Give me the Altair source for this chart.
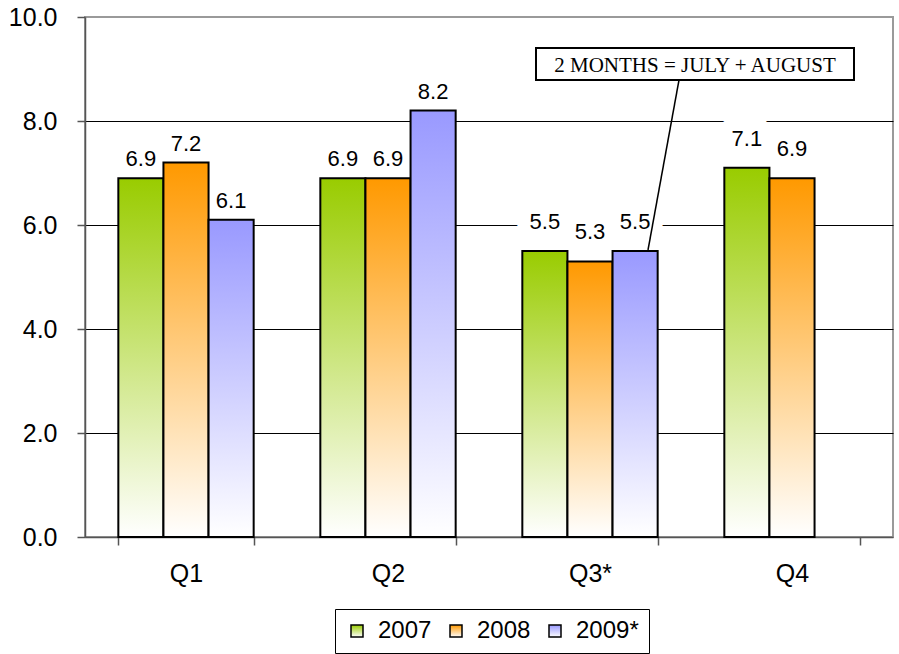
import altair as alt
import pandas as pd

# Quarterly figures per year (2009 has no Q4 yet)
quarters = ["Q1", "Q2", "Q3*", "Q4"]
years = ["2007", "2008", "2009*"]
values_2007 = [6.9, 6.9, 5.5, 7.1]
values_2008 = [7.2, 6.9, 5.3, 6.9]
values_2009 = [6.1, 8.2, 5.5]

# Top colour of each series' vertical fade to white
top_colors = ["#99CC00", "#FF9900", "#9999FF"]

note_text = ["2 MONTHS = JULY + AUGUST"]

rows = []
for year, vals in zip(years, [values_2007, values_2008, values_2009]):
    for q, v in zip(quarters, vals):
        rows.append({"quarter": q, "year": year, "value": v})
df = pd.DataFrame(rows)


def fade(color):
    # linear gradient object evaluated by Vega, top colour -> white
    return {
        "expr": (
            "{gradient: 'linear', x1: 0, y1: 0, x2: 0, y2: 1, stops: ["
            "{offset: 0, color: '%s'}, {offset: 1, color: '#ffffff'}]}" % color
        )
    }


SANS = "Liberation Sans"

x_enc = alt.X(
    "quarter:N",
    sort=quarters,
    scale=alt.Scale(paddingInner=0.33, paddingOuter=0.165),
    axis=alt.Axis(
        title=None,
        labelAngle=0,
        labelFont=SANS,
        labelFontSize=25,
        labelColor="black",
        tickBand="extent",
        tickSize=8,
        tickColor="#555555",
        tickWidth=1.5,
        domainColor="#555555",
        domainWidth=1.5,
        labelPadding=16,
        grid=False,
    ),
)
xoff_enc = alt.XOffset(
    "year:N", sort=years, scale=alt.Scale(domain=years, paddingInner=0, paddingOuter=0)
)
y_enc = alt.Y(
    "value:Q",
    scale=alt.Scale(domain=[0, 10], nice=False),
    axis=alt.Axis(
        title=None,
        values=[0, 2, 4, 6, 8, 10],
        format=".1f",
        labelFont=SANS,
        labelFontSize=25,
        labelColor="black",
        labelPadding=20,
        tickSize=8,
        tickColor="#555555",
        tickWidth=1.5,
        domainColor="#555555",
        domainWidth=1.5,
        grid=True,
        gridColor={
            "condition": {"test": "datum.value == 0 || datum.value == 10", "value": "transparent"},
            "value": "black",
        },
        gridWidth=1,
    ),
)

base = alt.Chart(df).encode(x=x_enc, xOffset=xoff_enc, y=y_enc)

bars = base.mark_bar(stroke="black", strokeWidth=2).encode(
    color=alt.Color(
        "year:N",
        sort=years,
        scale=alt.Scale(domain=years, range=[fade(c) for c in top_colors]),
        legend=alt.Legend(
            title=None,
            orient="none",
            legendX=250,
            legendY=592,
            direction="horizontal",
            strokeColor="black",
            fillColor="white",
            padding=10,
            symbolType="square",
            symbolSize=144,
            symbolStrokeColor="black",
            symbolStrokeWidth=1.5,
            symbolOpacity=1,
            labelFont=SANS,
            labelFontSize=24,
            labelColor="black",
            labelOffset=9,
            columnPadding=12,
        ),
    )
)


def value_labels(group, dy, halo):
    sel = base.transform_filter(alt.FieldOneOfPredicate(field="quarter", oneOf=group))
    txt = alt.Text("value:Q", format=".1f")
    back = sel.mark_text(
        font=SANS, fontSize=22, baseline="alphabetic", dy=dy,
        stroke="white", strokeWidth=halo, strokeJoin="round", fill="white",
    ).encode(text=txt)
    front = sel.mark_text(
        font=SANS, fontSize=22, baseline="alphabetic", dy=dy, color="black"
    ).encode(text=txt)
    return [back, front]


labels_a = value_labels(["Q1", "Q2"], -12, 10)
labels_b = value_labels(["Q3*", "Q4"], -22, 26)

# Call-out box with leader line down to the Q3* 2009 bar
note = alt.Chart(pd.DataFrame({"note": note_text}))
note_line = note.mark_rule(color="black", strokeWidth=1.5).encode(
    x=alt.value(594), x2=alt.value(563), y=alt.value(63), y2=alt.value(233)
)
note_box = note.mark_rect(fill="white", stroke="black", strokeWidth=2).encode(
    x=alt.value(451), x2=alt.value(769), y=alt.value(31), y2=alt.value(63)
)
note_label = note.mark_text(
    font="Liberation Serif", fontSize=21, color="black", baseline="alphabetic"
).encode(x=alt.value(610), y=alt.value(55), text="note:N")

chart = (
    alt.layer(bars, *labels_a, *labels_b, note_line, note_box, note_label)
    .properties(
        width=808,
        height=520,
        autosize=alt.AutoSizeParams(type="none"),
        padding={"left": 85, "top": 17, "right": 6, "bottom": 117},
        background="white",
    )
    .configure_view(stroke="#9a9a9a", strokeWidth=2)
)

chart.save("out.html", embed_options={"renderer": "svg", "actions": False})
